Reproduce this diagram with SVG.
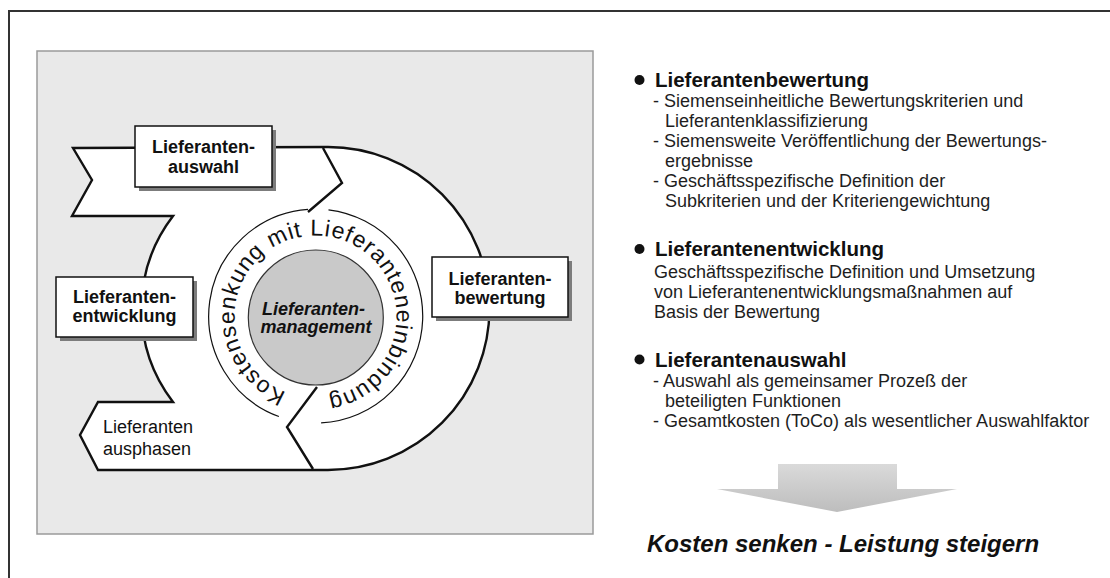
<svg xmlns="http://www.w3.org/2000/svg" width="1110" height="578" viewBox="0 0 1110 578">
  <defs>
    <style>
      .sans { font-family: "Liberation Sans", Arial, sans-serif; }
      .box { fill: #ffffff; stroke: #111111; stroke-width: 1.5; }
      .shadow { fill: #7c7c7c; }
      .boxlabel { font-family: "Liberation Sans", Arial, sans-serif; font-weight: bold; font-size: 18px; fill: #111111; text-anchor: middle; }
      .outline { fill: none; stroke: #111111; stroke-width: 2.4; stroke-linejoin: miter; }
      .band { fill: none; stroke: #111111; stroke-width: 1.2; }
      .head { font-family: "Liberation Sans", Arial, sans-serif; font-weight: bold; font-size: 20.5px; fill: #111111; }
      .body { font-family: "Liberation Sans", Arial, sans-serif; font-size: 18px; fill: #1e1e1e; }
    </style>
    <linearGradient id="arrowFill" x1="0" y1="0" x2="0" y2="1">
      <stop offset="0" stop-color="#dadada"/>
      <stop offset="1" stop-color="#bdbdbd"/>
    </linearGradient>
    <!-- baseline of the circular label, clockwise from lower left to lower right -->
    <path id="ringPath" d="M286.5,392.1 A81,81 0 1 1 328.2,396.5"/>
  </defs>

  <!-- page frame -->
  <path d="M9,578 L9,11 L1110,11" fill="none" stroke="#333333" stroke-width="2"/>

  <!-- gray panel behind the cycle -->
  <rect x="37" y="51" width="556" height="483" fill="#e9e9e9" stroke="#9a9a9a" stroke-width="1.5"/>

  <!-- cycle arrow -->
  <g id="cycle">
    <path class="outline" style="fill:#ffffff"
          d="M73,148 L328,147 A161.5,161.5 0 0 1 328,470 L98,470 L80,435 L98,402 L173,402 A153,153 0 0 1 173,216 L72,216 L92,180 Z"/>
    <!-- segment separators -->
    <polyline class="outline" points="323,148 342,183 308,212"/>
    <polyline class="outline" points="317,387 287,427 313,469"/>
  </g>

  <!-- ring with the circular label -->
  <g id="ring">
    <path class="band" d="M278.9,416.5 A107,107 0 0 1 308,209.3"/>
    <path class="band" d="M328.5,209.8 A107,107 0 0 1 321.1,422.9"/>
    <text class="sans" font-size="23" fill="#111111">
      <textPath href="#ringPath" textLength="466" lengthAdjust="spacing">Kostensenkung mit Lieferanteneinbindung</textPath>
    </text>
  </g>

  <!-- centre node -->
  <g id="node-management">
    <circle cx="315.8" cy="317.5" r="67.5" fill="#c9c9c9" stroke="#333333" stroke-width="1.2"/>
    <text class="sans" font-weight="bold" font-style="italic" font-size="18" fill="#111111" text-anchor="middle">
      <tspan x="316" y="314.5">Lieferanten-</tspan>
      <tspan x="316" y="333">management</tspan>
    </text>
  </g>

  <!-- phase nodes -->
  <g id="node-auswahl">
    <rect class="shadow" x="139" y="130" width="137" height="61"/>
    <rect class="box" x="135" y="126" width="137" height="61"/>
    <text class="boxlabel"><tspan x="203.5" y="153">Lieferanten-</tspan><tspan x="203.5" y="173">auswahl</tspan></text>
  </g>

  <g id="node-entwicklung">
    <rect class="shadow" x="60" y="281" width="137" height="60"/>
    <rect class="box" x="56" y="277" width="137" height="60"/>
    <text class="boxlabel"><tspan x="124.5" y="303">Lieferanten-</tspan><tspan x="124.5" y="322">entwicklung</tspan></text>
  </g>

  <g id="node-bewertung">
    <rect class="shadow" x="436" y="261" width="136" height="60"/>
    <rect class="box" x="432" y="257" width="136" height="60"/>
    <text class="boxlabel"><tspan x="500" y="285">Lieferanten-</tspan><tspan x="500" y="304">bewertung</tspan></text>
  </g>

  <g id="node-ausphasen">
    <text class="sans" font-size="18" fill="#111111"><tspan x="103" y="433">Lieferanten</tspan><tspan x="103" y="455">ausphasen</tspan></text>
  </g>

  <g id="connectors"></g>

  <!-- explanatory list -->
  <g id="list-bewertung">
    <circle cx="639.5" cy="80" r="5" fill="#111111"/>
    <text class="head" x="655" y="87">Lieferantenbewertung</text>
    <text class="body" x="653" y="106.7">- Siemenseinheitliche Bewertungskriterien und</text>
    <text class="body" x="665" y="126.7">Lieferantenklassifizierung</text>
    <text class="body" x="653" y="146.7">- Siemensweite Veröffentlichung der Bewertungs-</text>
    <text class="body" x="665" y="166.7">ergebnisse</text>
    <text class="body" x="653" y="186.7">- Geschäftsspezifische Definition der</text>
    <text class="body" x="665" y="206.7">Subkriterien und der Kriteriengewichtung</text>
  </g>

  <g id="list-entwicklung">
    <circle cx="639.5" cy="249" r="5" fill="#111111"/>
    <text class="head" x="655" y="256">Lieferantenentwicklung</text>
    <text class="body" x="654" y="278">Geschäftsspezifische Definition und Umsetzung</text>
    <text class="body" x="654" y="298">von Lieferantenentwicklungsmaßnahmen auf</text>
    <text class="body" x="654" y="318">Basis der Bewertung</text>
  </g>

  <g id="list-auswahl">
    <circle cx="639.5" cy="359.5" r="5" fill="#111111"/>
    <text class="head" x="655" y="366.5">Lieferantenauswahl</text>
    <text class="body" x="653" y="387">- Auswahl als gemeinsamer Prozeß der</text>
    <text class="body" x="665" y="407">beteiligten Funktionen</text>
    <text class="body" x="653" y="427">- Gesamtkosten (ToCo) als wesentlicher Auswahlfaktor</text>
  </g>

  <!-- result arrow and slogan -->
  <g id="result">
    <polygon points="778,464 897,464 897,489 957,489 837,512 717,489 778,489" fill="url(#arrowFill)"/>
    <text class="sans" x="647" y="551.5" font-weight="bold" font-style="italic" font-size="24" fill="#111111">Kosten senken - Leistung steigern</text>
  </g>
</svg>
